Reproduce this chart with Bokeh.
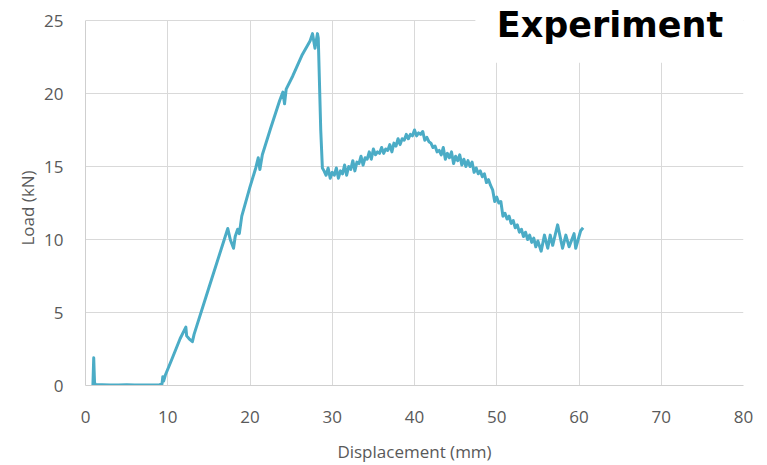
from bokeh.plotting import figure
from bokeh.models import Range1d, FixedTicker, Label, BoxAnnotation, ColumnDataSource, Title
from bokeh.embed import file_html
from bokeh.resources import INLINE

x_ticks = [0, 10, 20, 30, 40, 50, 60, 70, 80]
y_ticks = [0, 5, 10, 15, 20, 25]

displacement = [
    0.9, 1.0, 1.05, 1.1, 1.2, 2.0, 3.0, 4.0, 5.0, 6.0, 7.0, 8.0, 9.0, 9.3, 9.4, 9.5, 9.7,
    10.5, 11.5, 12.2, 12.3, 12.6, 13.0, 13.2, 15.0, 17.3, 17.6, 18.0, 18.2, 18.5, 18.7,
    19.0, 20.0, 20.7, 21.0, 21.2, 21.5, 22.5, 23.6, 24.0, 24.2, 24.4, 25.2, 26.3, 27.3,
    27.6, 27.9, 28.2, 28.3, 28.6, 28.8,
    29.0, 29.25, 29.5, 29.75, 30.0, 30.25, 30.5, 30.75, 31.0, 31.25, 31.5, 31.75,
    32.0, 32.25, 32.5, 32.75, 33.0, 33.25, 33.5, 33.75, 34.0, 34.25, 34.5, 34.75,
    35.0, 35.25, 35.5, 35.75, 36.0, 36.25, 36.5, 36.75, 37.0, 37.25, 37.5, 37.75,
    38.0, 38.25, 38.5, 38.75, 39.0, 39.25, 39.5, 39.75, 40.0, 40.25, 40.5, 40.75,
    41.0, 41.25, 41.5, 41.75, 42.0, 42.25, 42.5, 42.75, 43.0, 43.25, 43.5, 43.75,
    44.0, 44.25, 44.5, 44.75, 45.0, 45.25, 45.5, 45.75, 46.0, 46.25, 46.5, 46.75,
    47.0, 47.25, 47.5, 47.75, 48.0, 48.25, 48.5, 48.75, 49.0, 49.25, 49.5, 49.75,
    50.0, 50.25, 50.5, 50.75, 51.0, 51.25, 51.5, 51.75, 52.0, 52.25, 52.5, 52.75,
    53.0, 53.25, 53.5, 53.75, 54.0, 54.25, 54.5, 54.75, 55.0, 55.4, 55.8, 56.2,
    56.5, 56.8, 57.4, 58.0, 58.4, 58.8, 59.4, 59.6, 60.2, 60.5,
]
load = [
    0.0, 1.9, 1.0, 0.2, 0.05, 0.05, 0.03, 0.03, 0.05, 0.03, 0.03, 0.03, 0.05, 0.1, 0.6, 0.3, 0.7,
    1.8, 3.2, 4.0, 3.4, 3.2, 3.0, 3.5, 6.7, 10.75, 10.0, 9.4, 10.2, 10.7, 10.4,
    11.6, 13.6, 14.9, 15.6, 14.8, 15.8, 17.6, 19.5, 20.1, 19.3, 20.3, 21.2, 22.6, 23.6,
    24.1, 23.1, 24.1, 23.8, 17.5, 14.9,
    14.7, 14.4, 14.9, 14.2, 14.6, 14.4, 14.9, 14.2, 14.7, 14.5, 15.1, 14.4,
    15.0, 14.8, 15.4, 14.7, 15.3, 15.2, 15.7, 15.1, 15.6, 15.5, 16.0, 15.5,
    16.2, 15.8, 16.0, 15.9, 16.3, 15.9, 16.2, 16.1, 16.5, 16.0, 16.6, 16.4,
    16.9, 16.5, 16.9, 16.8, 17.2, 16.9, 17.2, 17.1, 17.5, 17.1, 17.3, 17.2,
    17.4, 16.8, 17.0, 16.7, 16.6, 16.3, 16.4, 16.0, 16.1, 15.8, 16.3, 15.5,
    15.9, 15.6, 16.0, 15.2, 15.7, 15.4, 15.8, 15.1, 15.5, 15.0, 15.4, 15.0,
    15.3, 14.6, 14.9, 14.5, 14.7, 14.3, 14.5, 13.9, 14.1, 13.7, 13.4, 12.6,
    12.9, 12.5, 12.6, 11.6, 11.8, 11.4, 11.6, 11.1, 11.3, 10.8, 11.0, 10.5,
    10.7, 10.2, 10.5, 10.0, 10.3, 9.8, 10.1, 9.5, 9.9, 9.2, 10.3, 9.4,
    10.3, 9.6, 11.0, 9.4, 10.3, 9.5, 10.4, 9.4, 10.6, 10.8,
]

source = ColumnDataSource(data=dict(x=displacement, y=load))

y_top = 385 / 14.6  # frame reaches the top of the canvas; 25 kN sits 20 px below it

p = figure(width=767, height=465, output_backend="svg", toolbar_location=None,
           x_range=Range1d(0, 80), y_range=Range1d(0, y_top),
           min_border_left=85, min_border_right=24, min_border_top=0, min_border_bottom=80)
p.outline_line_color = None
p.background_fill_color = "white"
p.border_fill_color = "white"

grid_color = "#d9d9d9"
p.xgrid.ticker = FixedTicker(ticks=x_ticks)
p.ygrid.ticker = FixedTicker(ticks=y_ticks)
p.xgrid.grid_line_color = grid_color
p.ygrid.grid_line_color = grid_color
p.xgrid.grid_line_width = 1
p.ygrid.grid_line_width = 1
p.xgrid.cross_bounds = (0, 25)

for ax in (p.xaxis[0], p.yaxis[0]):
    ax.axis_line_color = "#cfcfcf"
    ax.major_tick_line_color = None
    ax.minor_tick_line_color = None
    ax.major_label_text_font = "Open Sans"
    ax.major_label_text_font_size = "17px"
    ax.major_label_text_color = "#595959"
    ax.axis_label_text_font = "Open Sans"
    ax.axis_label_text_font_size = "17px"
    ax.axis_label_text_font_style = "normal"
    ax.axis_label_text_color = "#595959"

p.yaxis.bounds = (0, 25)
p.xaxis.ticker = FixedTicker(ticks=x_ticks)
p.yaxis.ticker = FixedTicker(ticks=y_ticks)
p.xaxis.axis_label = "Displacement (mm)"
p.xaxis.major_label_standoff = 19
p.yaxis.major_label_standoff = 16
p.xaxis.axis_label_standoff = 14

# y-axis title, placed in the left panel and centred on the 0-25 kN span
ytitle = Title(text="Load (kN)", align="left", offset=140, standoff=5,
               text_font="Open Sans", text_font_size="17px", text_font_style="normal",
               text_color="#595959")
p.add_layout(ytitle, "left")

p.line("x", "y", source=source, line_color="#4bacc6", line_width=3, line_join="round")

cover = BoxAnnotation(left=47.4, bottom=22.1, fill_color="white", fill_alpha=1.0,
                      line_color=None)
p.add_layout(cover)

title = Label(x=50.0, y=24.66, text="Experiment", text_font="DejaVu Sans",
              text_font_style="bold", text_font_size="35px", text_color="black",
              text_baseline="middle", text_align="left")
p.add_layout(title)

open("out.html", "w").write(file_html(p, INLINE))
